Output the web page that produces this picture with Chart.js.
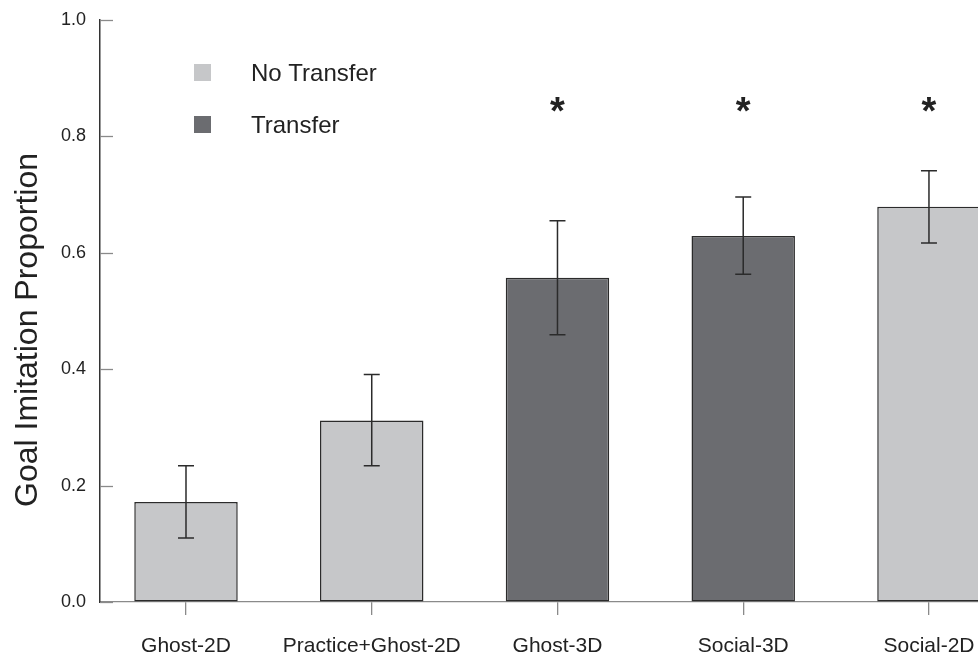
<!DOCTYPE html>
<html><head><meta charset="utf-8">
<script src="https://cdn.jsdelivr.net/npm/chart.js@4.4.1/dist/chart.umd.min.js"></script>
<style>html,body{margin:0;padding:0;background:#fff;overflow:hidden}#wrap{width:978px;height:657px;position:relative}canvas{display:block}</style>
</head><body><div id="wrap"><canvas id="c" width="978" height="657"></canvas></div>
<script>
const categories = ['Ghost-2D', 'Practice+Ghost-2D', 'Ghost-3D', 'Social-3D', 'Social-2D'];
const meanValues = [0.172, 0.312, 0.557, 0.629, 0.679];
const errorLow   = [0.110, 0.234, 0.459, 0.563, 0.617];
const errorHigh  = [0.234, 0.391, 0.655, 0.696, 0.741];
const groupOf    = ['No Transfer', 'No Transfer', 'Transfer', 'Transfer', 'No Transfer'];
const significant = [false, false, true, true, true];
const starLevel = 0.854;
const seriesNames = ['No Transfer', 'Transfer'];
const seriesColors = ['#c6c7c9', '#6b6c70'];
const yTicks = [0, 0.2, 0.4, 0.6, 0.8, 1.0];
const yAxisTitle = 'Goal Imitation Proportion';

const FONT = "'Liberation Sans', Arial, sans-serif";

const datasets = seriesNames.map((name, k) => ({
  label: name,
  data: categories.map((c, i) => ({x: i, y: meanValues[i]})).filter((p, i) => groupOf[i] === name),
  backgroundColor: seriesColors[k],
  borderColor: '#2b2b2b',
  borderWidth: 1.5,
  borderSkipped: false,
  grouped: false,
  barPercentage: 0.557,
  categoryPercentage: 1.0
}));

const extras = {
  id: 'extras',
  afterDatasetsDraw(chart) {
    const ctx = chart.ctx;
    const xs = chart.scales.x, ys = chart.scales.y;
    const area = chart.chartArea;
    ctx.save();
    // inward y ticks
    ctx.strokeStyle = '#8a8a8a';
    ctx.lineWidth = 1.3;
    yTicks.forEach(v => {
      const py = Math.round(ys.getPixelForValue(v)) + 0.5;
      ctx.beginPath();
      ctx.moveTo(area.left, py);
      ctx.lineTo(area.left + 13, py);
      ctx.stroke();
    });
    // error bars
    ctx.strokeStyle = '#2b2b2b';
    ctx.lineWidth = 1.5;
    categories.forEach((c, i) => {
      const px = xs.getPixelForValue(i);
      const yl = ys.getPixelForValue(errorLow[i]);
      const yh = ys.getPixelForValue(errorHigh[i]);
      ctx.beginPath();
      ctx.moveTo(px, yl); ctx.lineTo(px, yh);
      ctx.moveTo(px - 8, yl); ctx.lineTo(px + 8, yl);
      ctx.moveTo(px - 8, yh); ctx.lineTo(px + 8, yh);
      ctx.stroke();
    });
    // significance stars
    ctx.fillStyle = '#222';
    ctx.font = 'bold 38px ' + FONT;
    ctx.textAlign = 'center';
    ctx.textBaseline = 'alphabetic';
    const m = ctx.measureText('*');
    categories.forEach((c, i) => {
      if (!significant[i]) return;
      const px = xs.getPixelForValue(i);
      const target = ys.getPixelForValue(starLevel);
      const base = target + (m.actualBoundingBoxAscent - m.actualBoundingBoxDescent) / 2;
      ctx.fillText('*', px, base);
    });
    // legend
    ctx.font = '24px ' + FONT;
    ctx.textAlign = 'left';
    seriesNames.forEach((name, k) => {
      const cy = 72.5 + k * 52;
      ctx.fillStyle = seriesColors[k];
      ctx.fillRect(194, cy - 8.5, 17, 17);
      ctx.fillStyle = '#222';
      ctx.fillText(name, 251, cy + 8.6);
    });
    // y axis title
    ctx.font = '32px ' + FONT;
    ctx.textAlign = 'center';
    ctx.translate(37, 330);
    ctx.rotate(-Math.PI / 2);
    ctx.fillText(yAxisTitle, 0, 0);
    ctx.restore();
  }
};

new Chart(document.getElementById('c'), {
  type: 'bar',
  data: {datasets},
  options: {
    responsive: false,
    animation: false,
    devicePixelRatio: 1,
    layout: {padding: {left: 0, right: 0, top: 20, bottom: 0}},
    plugins: {legend: {display: false}, tooltip: {enabled: false}},
    scales: {
      x: {
        type: 'linear',
        min: -0.463,
        max: 4.264,
        offset: false,
        afterBuildTicks: s => { s.ticks = categories.map((c, i) => ({value: i})); },
        grid: {display: true, offset: false, drawOnChartArea: false, drawTicks: true, tickLength: 13, color: '#8a8a8a', lineWidth: 1.3},
        border: {display: true, color: '#8a8a8a', width: 1.3},
        ticks: {autoSkip: false, maxRotation: 0, padding: 19, color: '#222', font: {family: FONT, size: 21},
                callback: v => categories[v] !== undefined ? categories[v] : ''},
        afterFit: s => { s.height = 55; s.paddingLeft = 0; s.paddingRight = 0; }
      },
      y: {
        min: 0, max: 1,
        afterBuildTicks: s => { s.ticks = yTicks.map(v => ({value: v})); },
        grid: {display: true, drawOnChartArea: false, drawTicks: false},
        border: {display: true, color: '#333', width: 1.5},
        ticks: {padding: 14, color: '#222', font: {family: FONT, size: 18}, callback: v => Number(v).toFixed(1)},
        afterFit: s => { s.width = 100; s.paddingTop = 0; s.paddingBottom = 0; }
      }
    }
  },
  plugins: [extras]
});
</script>
</body></html>
